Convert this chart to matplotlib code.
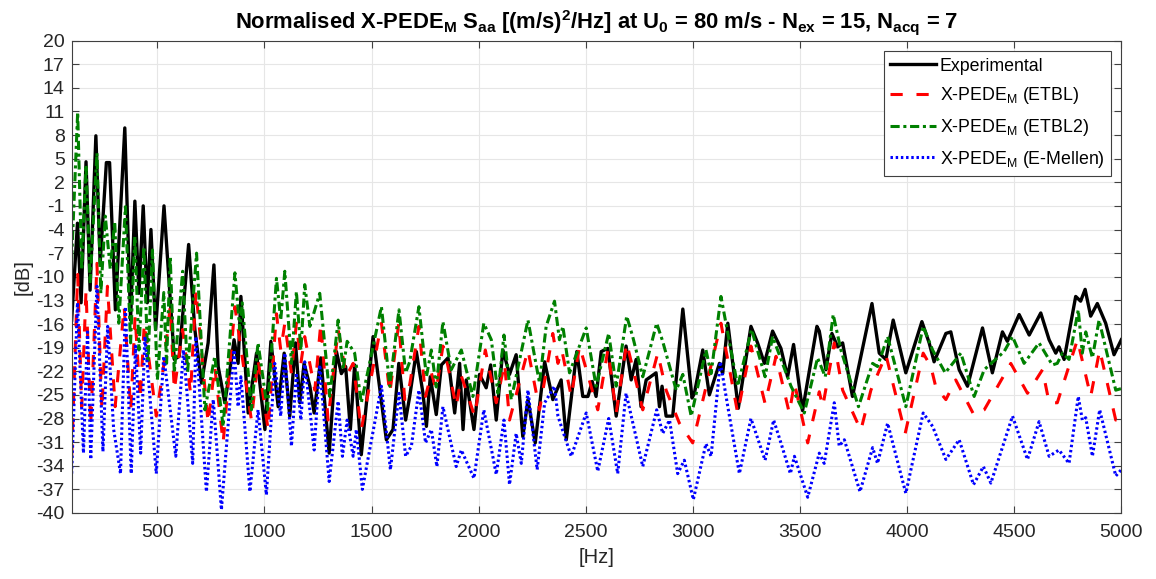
import matplotlib
matplotlib.use('Agg')
from matplotlib import pyplot as plt

plt.rcParams['font.family'] = ['Liberation Sans', 'DejaVu Sans']
plt.rcParams['mathtext.fontset'] = 'custom'
plt.rcParams['mathtext.rm'] = 'Liberation Sans'
plt.rcParams['mathtext.bf'] = 'Liberation Sans:bold'
plt.rcParams['mathtext.it'] = 'Liberation Sans:italic'
plt.rcParams['axes.unicode_minus'] = False

# Experimental
exp_f = [100, 127, 144, 167, 186, 213, 233, 262, 277, 304, 348, 375, 395, 414, 434, 453, 470, 492,
         531, 579, 602, 646, 675, 706, 737, 764, 784, 815, 843, 858, 877, 890, 924, 963, 1002, 1030,
         1064, 1092, 1118, 1145, 1165, 1185, 1212, 1232, 1263, 1302, 1336, 1359, 1379, 1401, 1421,
         1452, 1507, 1535, 1569, 1600, 1627, 1659, 1678, 1709, 1740, 1756, 1774, 1802, 1826, 1857,
         1888, 1911, 1927, 1942, 1978, 2004, 2035, 2056, 2082, 2113, 2144, 2175, 2206, 2230, 2264,
         2308, 2346, 2385, 2409, 2458, 2486, 2510, 2530, 2548, 2572, 2603, 2642, 2688, 2712, 2735,
         2758, 2782, 2828, 2844, 2856, 2875, 2906, 2953, 2996, 3007, 3046, 3077, 3124, 3139, 3163,
         3212, 3271, 3302, 3334, 3372, 3411, 3442, 3470, 3512, 3579, 3590, 3621, 3649, 3676, 3699,
         3745, 3836, 3870, 3901, 3935, 3994, 4069, 4103, 4126, 4181, 4204, 4243, 4282, 4352, 4398,
         4445, 4468, 4523, 4570, 4624, 4663, 4694, 4709, 4733, 4787, 4810, 4831, 4857, 4888, 4927,
         4966, 5000]
exp_db = [-15.5, -3.2, -13.3, 4.6, -11.7, 7.9, -8.3, 4.5, 4.5, -14.2, 8.9, -15.5, -0.4, -12.1, -1.0,
          -13.3, -4.0, -16.7, -1.0, -20.5, -20.1, -5.9, -16.7, -23.5, -18.4, -8.5, -21.4, -26.0,
          -21.0, -18.0, -21.0, -12.5, -27.3, -19.7, -29.4, -18.2, -26.5, -19.7, -27.7, -18.4, -26.0,
          -21.0, -23.9, -27.3, -20.3, -32.4, -19.5, -22.3, -21.4, -29.4, -21.2, -32.6, -17.6, -23.5,
          -30.7, -29.4, -21.0, -28.2, -25.2, -19.5, -24.8, -29.0, -22.7, -27.5, -21.2, -20.3, -27.3,
          -21.0, -29.4, -23.1, -29.4, -22.4, -24.1, -21.2, -28.2, -19.3, -22.4, -19.9, -30.3, -25.6,
          -31.1, -20.8, -25.6, -23.1, -30.7, -19.5, -25.2, -25.2, -23.3, -25.2, -19.5, -19.1, -27.7,
          -18.8, -23.1, -20.5, -26.5, -23.1, -22.2, -26.5, -23.9, -27.7, -27.7, -14.1, -25.4, -24.8,
          -19.3, -25.0, -21.0, -22.3, -15.9, -26.7, -16.3, -18.4, -21.0, -16.9, -19.1, -22.7, -18.6,
          -27.0, -16.3, -16.9, -21.8, -17.2, -18.9, -18.4, -25.2, -13.4, -19.7, -20.5, -15.5, -22.2,
          -15.7, -18.4, -20.8, -17.2, -17.0, -21.8, -23.9, -16.5, -22.2, -17.0, -18.2, -14.8, -17.4,
          -14.6, -18.0, -19.7, -18.9, -20.5, -12.5, -13.1, -11.6, -15.0, -13.4, -15.9, -19.9, -18.0]

# X-PEDE_M (ETBL)
etbl_f = [100, 128, 147, 167, 189, 218, 241, 267, 303, 345, 376, 396, 420, 439, 495, 531, 560, 579,
          618, 655, 680, 737, 768, 807, 862, 939, 970, 1017, 1056, 1076, 1095, 1126, 1149, 1170,
          1188, 1235, 1263, 1297, 1344, 1382, 1414, 1452, 1546, 1585, 1627, 1655, 1678, 1721, 1752,
          1779, 1802, 1833, 1841, 1895, 1919, 1981, 2031, 2082, 2121, 2144, 2230, 2284, 2346, 2370,
          2388, 2432, 2471, 2556, 2603, 2642, 2691, 2766, 2836, 2875, 2937, 2999, 3069, 3131, 3209,
          3271, 3337, 3388, 3450, 3474, 3536, 3590, 3606, 3660, 3699, 3784, 3831, 3901, 3991, 4075,
          4111, 4134, 4181, 4227, 4313, 4360, 4484, 4562, 4632, 4663, 4701, 4795, 4857, 4899, 4974,
          5000]
etbl_db = [-32.8, -9.7, -26.5, -11.7, -28.8, -8.3, -26.9, -11.2, -26.5, -13.8, -26.9, -15.0, -25.6,
           -15.9, -27.7, -21.0, -13.8, -24.4, -16.7, -24.8, -11.7, -28.6, -21.4, -31.1, -13.8, -28.2,
           -20.5, -29.4, -14.7, -19.3, -15.9, -22.3, -15.9, -21.0, -17.6, -24.4, -15.9, -28.2, -16.7,
           -22.6, -21.0, -29.4, -15.9, -24.8, -15.9, -25.6, -23.7, -16.3, -25.2, -22.2, -24.4, -18.8,
           -19.3, -26.5, -22.6, -27.7, -19.3, -26.0, -21.0, -28.2, -19.3, -26.9, -17.2, -21.0, -19.3,
           -25.2, -18.8, -26.9, -19.3, -27.3, -18.4, -26.9, -19.7, -24.4, -28.6, -31.1, -23.1, -15.9,
           -27.3, -18.8, -26.1, -20.1, -27.3, -23.5, -31.1, -24.6, -26.5, -18.4, -24.4, -29.5, -24.4,
           -19.9, -29.9, -19.7, -21.4, -24.0, -25.6, -23.1, -27.6, -26.9, -21.0, -24.8, -21.8, -26.0,
           -26.0, -18.0, -25.2, -19.3, -28.2, -27.3]

# X-PEDE_M (ETBL2)
etbl2_f = [100, 128, 147, 167, 186, 218, 236, 257, 280, 301, 320, 351, 375, 395, 414, 437, 456, 477,
           500, 530, 543, 560, 579, 618, 641, 683, 722, 768, 807, 862, 885, 896, 939, 970, 1014,
           1056, 1076, 1095, 1126, 1149, 1170, 1188, 1212, 1258, 1305, 1344, 1367, 1386, 1421, 1452,
           1546, 1585, 1628, 1659, 1678, 1721, 1756, 1779, 1802, 1833, 1872, 1919, 1973, 2024, 2059,
           2090, 2118, 2152, 2230, 2284, 2315, 2354, 2377, 2393, 2424, 2502, 2548, 2607, 2642, 2691,
           2719, 2766, 2831, 2859, 2922, 2953, 2992, 3061, 3085, 3131, 3209, 3274, 3337, 3372, 3458,
           3520, 3582, 3618, 3655, 3691, 3773, 3839, 3862, 3909, 3994, 4075, 4119, 4178, 4251, 4313,
           4360, 4453, 4492, 4546, 4616, 4678, 4701, 4725, 4756, 4799, 4818, 4834, 4865, 4896, 4974,
           5000]
etbl2_db = [-7.8, 10.9, -9.1, 4.2, -10.8, 5.7, -12.1, -2.3, -9.0, -3.0, -15.9, -1.1, -18.4, -4.9,
            -19.3, -6.2, -21.0, -6.6, -23.1, -12.0, -21.0, -7.4, -22.2, -9.3, -22.2, -7.0, -26.9,
            -20.1, -29.0, -9.5, -16.7, -13.3, -26.9, -18.4, -26.9, -10.2, -15.5, -9.3, -21.0, -11.9,
            -19.3, -11.0, -16.3, -12.1, -25.2, -15.5, -21.8, -18.2, -19.7, -26.0, -13.8, -23.9, -14.2,
            -22.2, -20.8, -13.8, -22.7, -19.3, -24.0, -15.7, -21.8, -19.3, -25.2, -15.9, -18.0, -24.8,
            -17.4, -25.6, -15.5, -23.5, -16.3, -13.1, -18.0, -16.3, -22.2, -16.5, -23.9, -17.2, -23.9,
            -15.0, -17.6, -22.7, -15.9, -18.2, -24.4, -22.4, -27.7, -19.3, -22.3, -12.5, -23.9, -16.7,
            -22.7, -17.6, -23.9, -27.3, -20.3, -22.7, -14.8, -19.3, -26.5, -21.0, -21.4, -17.6, -26.5,
            -16.3, -19.3, -22.2, -19.7, -25.2, -21.8, -19.5, -17.6, -21.0, -18.4, -21.2, -21.0, -19.7,
            -20.5, -14.2, -19.7, -17.0, -20.3, -15.5, -24.4, -24.2]

# X-PEDE_M (E-Mellen)
emel_f = [100, 127, 155, 174, 189, 218, 246, 268, 296, 328, 351, 378, 398, 422, 442, 495, 530, 586,
          622, 665, 680, 729, 761, 799, 858, 877, 890, 932, 970, 1009, 1048, 1076, 1095, 1126, 1149,
          1170, 1188, 1232, 1258, 1302, 1344, 1364, 1386, 1414, 1429, 1457, 1546, 1588, 1628, 1659,
          1686, 1721, 1752, 1779, 1805, 1833, 1895, 1919, 1978, 2024, 2051, 2082, 2118, 2144, 2175,
          2199, 2230, 2273, 2308, 2354, 2370, 2432, 2502, 2556, 2607, 2649, 2688, 2766, 2831, 2859,
          2891, 2929, 2960, 3002, 3061, 3085, 3128, 3163, 3217, 3271, 3337, 3377, 3411, 3455, 3474,
          3536, 3590, 3613, 3660, 3683, 3707, 3780, 3839, 3862, 3909, 3994, 4075, 4119, 4181, 4243,
          4310, 4356, 4391, 4492, 4562, 4616, 4663, 4709, 4756, 4799, 4818, 4834, 4865, 4899, 4974,
          5000]
emel_db = [-35.0, -13.3, -32.4, -16.7, -33.2, -11.2, -32.2, -16.3, -29.4, -35.0, -13.8, -35.0, -18.8,
           -32.4, -17.6, -35.0, -20.1, -32.8, -19.3, -33.7, -17.6, -37.3, -25.6, -39.6, -19.3, -26.5,
           -22.7, -37.3, -26.9, -37.7, -21.0, -27.7, -19.7, -31.5, -22.2, -28.2, -20.8, -32.0, -21.2,
           -36.0, -25.8, -32.8, -28.2, -32.8, -29.4, -37.0, -23.9, -34.5, -24.8, -32.8, -31.5, -24.4,
           -31.1, -29.4, -34.1, -26.5, -34.1, -32.0, -35.6, -26.9, -30.7, -35.1, -28.2, -36.4, -29.9,
           -33.7, -24.4, -34.5, -26.0, -23.9, -27.7, -32.8, -27.3, -34.7, -28.0, -35.0, -24.8, -34.1,
           -26.9, -29.9, -28.2, -35.0, -33.3, -38.3, -31.2, -32.8, -20.8, -26.5, -35.0, -28.0, -33.3,
           -28.2, -31.1, -35.0, -32.8, -38.0, -32.4, -33.7, -26.0, -31.5, -30.7, -37.3, -31.7, -33.7,
           -28.6, -37.5, -27.3, -29.0, -33.2, -30.7, -36.4, -34.1, -36.2, -27.7, -33.2, -28.4, -32.8,
           -32.0, -33.7, -25.2, -28.2, -27.9, -32.8, -26.9, -35.3, -34.5]

x_ticks = list(range(500, 5001, 500))
y_ticks = list(range(-40, 21, 3))

fig = plt.figure(figsize=(11.56, 5.79), dpi=100)
ax = fig.add_axes([0.062, 0.114, 0.908, 0.816])

ax.plot(exp_f, exp_db, '-', color='black', lw=2.4, label='Experimental')
ax.plot(etbl_f, etbl_db, '--', color='red', lw=2.2, dashes=(4, 4.5), label=r'X-PEDE$_\mathrm{M}$ (ETBL)')
ax.plot(etbl2_f, etbl2_db, '-.', color='#008000', lw=2.2, dashes=(3, 1.2, 1, 1.2), label=r'X-PEDE$_\mathrm{M}$ (ETBL2)')
ax.plot(emel_f, emel_db, ':', color='blue', lw=2.2, dashes=(0.8, 0.9), label=r'X-PEDE$_\mathrm{M}$ (E-Mellen)')

ax.set_xlim(100, 5000)
ax.set_ylim(-40, 20)
ax.set_xticks(x_ticks)
ax.set_yticks(y_ticks)
ax.tick_params(direction='in', top=True, right=True, labelsize=14, length=5, color='#404040', labelcolor='#262626')
ax.tick_params(axis='x', pad=8)
ax.tick_params(axis='y', pad=5)
ax.grid(True, color='#e6e6e6', lw=0.8)
ax.set_axisbelow(True)
for s in ax.spines.values():
    s.set_color('#404040')
    s.set_linewidth(0.8)

ax.set_xlabel('[Hz]', fontsize=14.5, color='#262626', labelpad=5)
ax.set_ylabel('[dB]', fontsize=14.5, color='#262626', labelpad=3)
ax.set_title(r'Normalised X-PEDE$_\mathbf{M}$ S$_\mathbf{aa}$ [(m/s)$^\mathbf{2}$/Hz] at U$_\mathbf{0}$ = 80 m/s - N$_\mathbf{ex}$ = 15, N$_\mathbf{acq}$ = 7',
             fontsize=15.8, fontweight='bold', pad=9)

leg = ax.legend(loc='upper right', bbox_to_anchor=(0.99, 0.977), borderaxespad=0, fontsize=12.8,
                fancybox=False, edgecolor='#404040', framealpha=1, handlelength=2.6, handletextpad=0.2,
                labelspacing=0.6, borderpad=0.35)
leg.get_frame().set_linewidth(0.8)

fig.savefig('out.png', dpi=100)
